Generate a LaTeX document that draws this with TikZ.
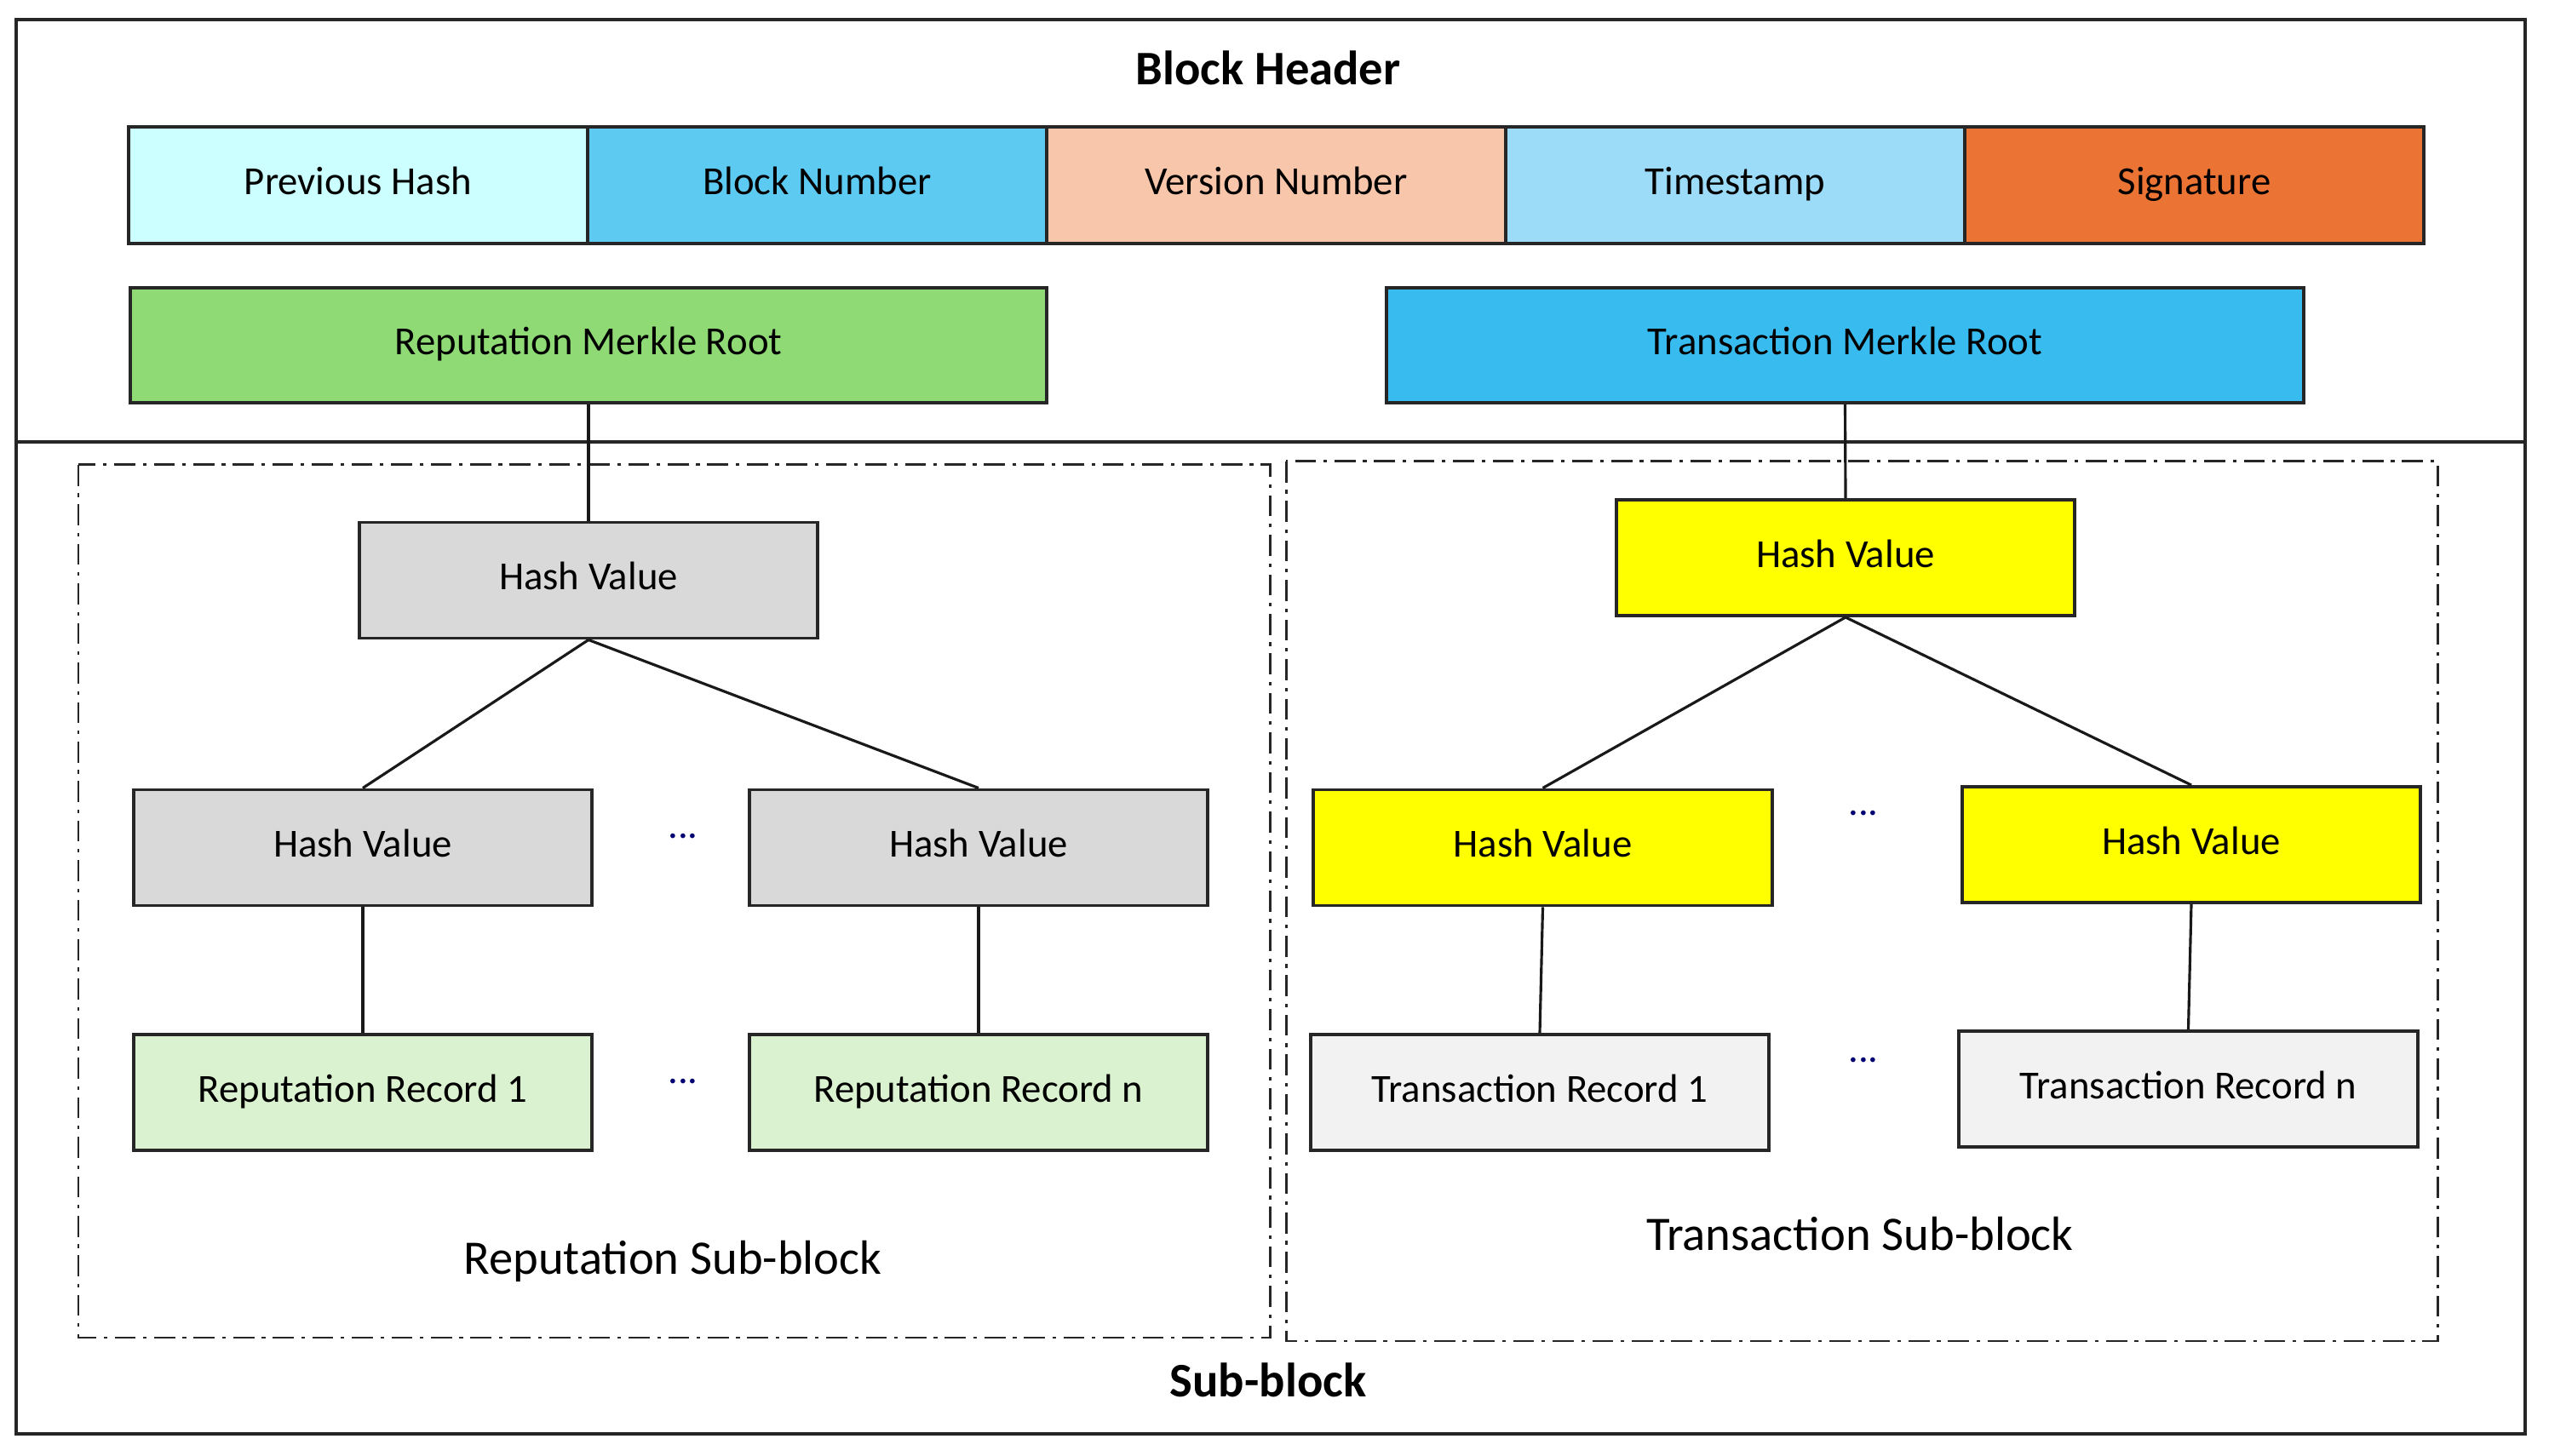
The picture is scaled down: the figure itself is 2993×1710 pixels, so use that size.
\documentclass[tikz,border=0pt]{standalone}
\usepackage{fontspec}
\setmainfont{Carlito}
\begin{document}
\begin{tikzpicture}[x=0.01cm,y=-0.01cm,
  box/.style={draw=black!85, line width=1.1pt, minimum width=5.38cm, minimum height=1.36cm, inner sep=0pt, text height=9pt, text depth=2.5pt, font=\fontsize{13.3}{15}\selectfont},
  hdr/.style={box, minimum width=5.39cm, minimum height=1.37cm},
  root/.style={box, minimum width=10.76cm, minimum height=1.35cm},
  conn/.style={draw=black!90, line width=0.9pt},
  dashdot/.style={draw=black!85, line width=0.85pt, dash pattern=on 7pt off 2.5pt on 1.2pt off 2.5pt},
  dots/.style={text=blue!45!black, font=\fontsize{13.3}{15}\selectfont},
  title/.style={font=\fontsize{16.1}{19}\selectfont\bfseries},
  sub/.style={font=\fontsize{16.1}{19}\selectfont}]
\definecolor{cPrev}{HTML}{CCFFFF}
\definecolor{cBlock}{HTML}{5DCAF2}
\definecolor{cVer}{HTML}{F8C6AA}
\definecolor{cTime}{HTML}{9CDCF8}
\definecolor{cSig}{HTML}{EB7333}
\definecolor{cRMR}{HTML}{8FDA75}
\definecolor{cTMR}{HTML}{38BCF0}
\definecolor{cGray}{HTML}{D9D9D9}
\definecolor{cYel}{HTML}{FFFF00}
\definecolor{cRec}{HTML}{DAF2D0}
\definecolor{cTRec}{HTML}{F2F2F2}
\useasboundingbox (0,0) rectangle (2993,1710);
\fill[white] (0,0) rectangle (2993,1710);
% outer frame and divider
\draw[line width=1pt, draw=black!85] (19,23) rectangle (2965,1684);
\coordinate (divL) at (19,519);
\coordinate (divR) at (2965,519);
\draw[line width=1pt, draw=black!85] (divL) -- (divR);
% sub-block frames
\draw[dashdot] (92,546) rectangle (1491,1571);
\draw[dashdot] (1510,542) rectangle (2862,1575);
% titles
\node[title] (tBH) at (1489,80) {Block Header};
\node[title] (tSB) at (1489,1621) {Sub-block};
\node[sub] (tRS) at (790,1481) {Reputation Sub-block};
\node[sub] (tTS) at (2184,1449) {Transaction Sub-block};
% header fields
\node[hdr, fill=cPrev] (prev) at (420.5,217.5) {Previous Hash};
\node[hdr, fill=cBlock] (bnum) at (959.5,217.5) {Block Number};
\node[hdr, fill=cVer] (vnum) at (1498.5,217.5) {Version Number};
\node[hdr, fill=cTime] (tstamp) at (2037.5,217.5) {Timestamp};
\node[hdr, fill=cSig] (sig) at (2576.5,217.5) {Signature};
% merkle roots
\node[root, fill=cRMR] (rmr) at (691,405.5) {Reputation Merkle Root};
\node[root, fill=cTMR] (tmr) at (2166.5,405.5) {Transaction Merkle Root};
% reputation tree
\node[box, fill=cGray] (rhv) at (691,681.5) {Hash Value};
\node[box, fill=cGray] (rhvl) at (426,995.5) {Hash Value};
\node[box, fill=cGray] (rhvr) at (1149,995.5) {Hash Value};
\node[box, fill=cRec] (rrec1) at (426,1283) {Reputation Record 1};
\node[box, fill=cRec] (rrecn) at (1149,1283) {Reputation Record n};
\node[dots] (rd1) at (802,982) {...};
\node[dots] (rd2) at (802,1270) {...};
% transaction tree
\node[box, fill=cYel] (thv) at (2167,655) {Hash Value};
\node[box, fill=cYel] (thvl) at (1811.5,995.5) {Hash Value};
\node[box, fill=cYel] (thvr) at (2573,992) {Hash Value};
\node[box, fill=cTRec] (trec1) at (1808,1283) {Transaction Record 1};
\node[box, fill=cTRec] (trecn) at (2569.5,1279) {Transaction Record n};
\node[dots] (td1) at (2188,955) {...};
\node[dots] (td2) at (2188,1245) {...};
% connectors
\draw[conn] (rmr.south) -- (rhv.north);
\draw[conn] (rhv.south) -- (rhvl.north);
\draw[conn] (rhv.south) -- (rhvr.north);
\draw[conn] (rhvl.south) -- (rrec1.north);
\draw[conn] (rhvr.south) -- (rrecn.north);
\draw[conn] (tmr.south) -- (thv.north);
\draw[conn] (thv.south) -- (thvl.north);
\draw[conn] (thv.south) -- (thvr.north);
\draw[conn] (thvl.south) -- (trec1.north);
\draw[conn] (thvr.south) -- (trecn.north);
\end{tikzpicture}
\end{document}
